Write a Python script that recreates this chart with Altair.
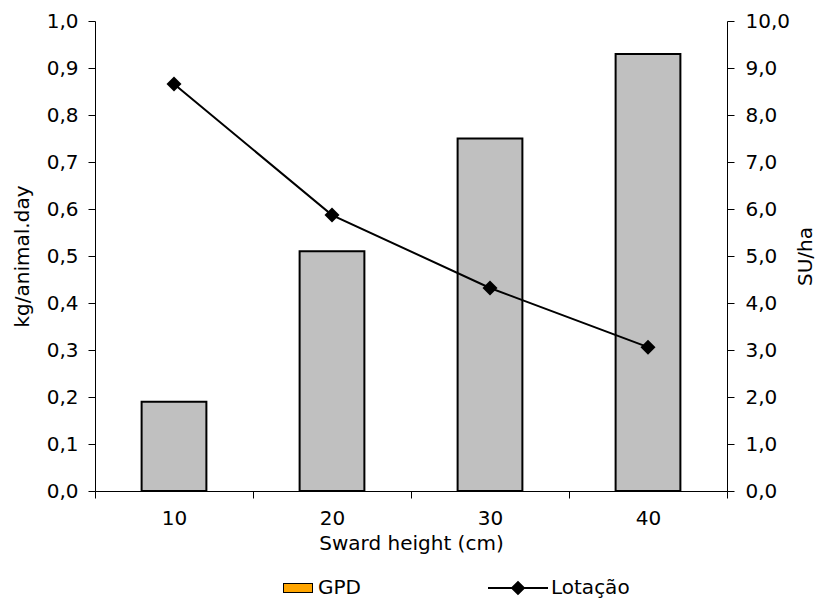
import altair as alt
import pandas as pd

heights = ["10", "20", "30", "40"]
gpd = [0.19, 0.51, 0.75, 0.93]
lotacao = [8.66, 5.87, 4.32, 3.06]

df = pd.DataFrame({
    "height": heights,
    "gpd": gpd,
    "lot": lotacao,
    "gpd_name": ["GPD"] * 4,
    "lot_name": ["Lotação"] * 4,
})

FONT = "DejaVu Sans"
FS = 20

x_enc = alt.X(
    "height:N",
    sort=heights,
    scale=alt.Scale(paddingInner=0, paddingOuter=0),
    axis=alt.Axis(
        title="Sward height (cm)",
        labelAngle=0,
        tickBand="extent",
        tickSize=7,
        labelPadding=10,
        titleY=52,
        titleBaseline="middle",
    ),
)

# legend symbol paths (unit = half the nominal symbol size)
frame_path = ("M-1.5,-0.5L1.5,-0.5L1.5,0.5L-1.5,0.5Z"
              "M-1.4,-0.4L-1.4,0.4L1.4,0.4L1.4,-0.4Z")
inner_path = "M-1.4,-0.4L1.4,-0.4L1.4,0.4L-1.4,0.4Z"
line_path = ("M-2,-0.067L2,-0.067L2,0.067L-2,0.067Z"
             "M0,-0.49L0.49,0L0,0.49L-0.49,0Z")

bars = alt.Chart(df).mark_bar(
    fill="#C0C0C0", stroke="black", strokeWidth=2, width=alt.RelativeBandSize(0.41)
).encode(
    x=x_enc,
    y=alt.Y(
        "gpd:Q",
        scale=alt.Scale(domain=[0, 1], nice=False),
        axis=alt.Axis(
            title="kg/animal.day",
            orient="left",
            values=[i / 10 for i in range(11)],
            labelExpr="replace(format(datum.value, '.1f'), '.', ',')",
            tickSize=7,
            labelPadding=10,
            grid=False,
            titleX=-73,
            titleY=235,
            titleAngle=270,
            titleBaseline="middle",
        ),
    ),
)

y_right = alt.Y(
    "lot:Q",
    scale=alt.Scale(domain=[0, 10], nice=False),
    axis=alt.Axis(
        title="SU/ha",
        orient="right",
        values=list(range(11)),
        labelExpr="replace(format(datum.value, '.1f'), '.', ',')",
        tickSize=7,
        labelPadding=11,
        grid=False,
        titleX=78,
        titleY=235,
        titleAngle=270,
        titleBaseline="middle",
    ),
)

line = alt.Chart(df).mark_line(color="black", strokeWidth=2).encode(x=x_enc, y=y_right)
points = alt.Chart(df).mark_point(
    shape="diamond", filled=True, color="black", size=225, opacity=1
).encode(x=x_enc, y=y_right)
right_layer = alt.layer(line, points)


def legend_layer(field, path, color, lx, ly, size, offset, show_label=True):
    leg = dict(
        title=None, orient="none", legendX=lx, legendY=ly, padding=0,
        symbolSize=size, labelOffset=offset, symbolOpacity=1,
        symbolFillColor=color,
    )
    if not show_label:
        leg["labelOpacity"] = 0
    return alt.Chart(df).transform_filter("false").mark_point(
        filled=True, fill=color, opacity=1
    ).encode(
        x=x_enc,
        shape=alt.Shape(
            field + ":N",
            scale=alt.Scale(domain=[df[field].iloc[0]], range=[path]),
            legend=alt.Legend(**leg),
        ),
    )


leg_frame = legend_layer("gpd_name", frame_path, "black", 192, 556, 400, 9, show_label=False)
leg_gpd = legend_layer("gpd_name", inner_path, "#FFA500", 192, 556, 400, 9)
leg_lot = legend_layer("lot_name", line_path, "black", 407, 551, 900, 17)

chart = alt.layer(bars, right_layer, leg_frame, leg_gpd, leg_lot).resolve_scale(
    y="independent", shape="independent"
).resolve_legend(shape="independent").properties(
    width=632,
    height=470,
    autosize=alt.AutoSizeParams(type="none"),
    padding={"left": 87, "top": 13, "right": 88, "bottom": 107},
).configure_view(stroke=None).configure_axis(
    labelFont=FONT,
    titleFont=FONT,
    labelFontSize=FS,
    titleFontSize=FS,
    labelColor="black",
    titleColor="black",
    titleFontWeight="normal",
    domainColor="black",
    tickColor="black",
    domainWidth=1,
    tickWidth=1,
).configure_legend(
    labelFont=FONT,
    labelFontSize=FS,
    labelColor="black",
)

chart.save("out.html", embed_options={"renderer": "svg", "actions": False})
